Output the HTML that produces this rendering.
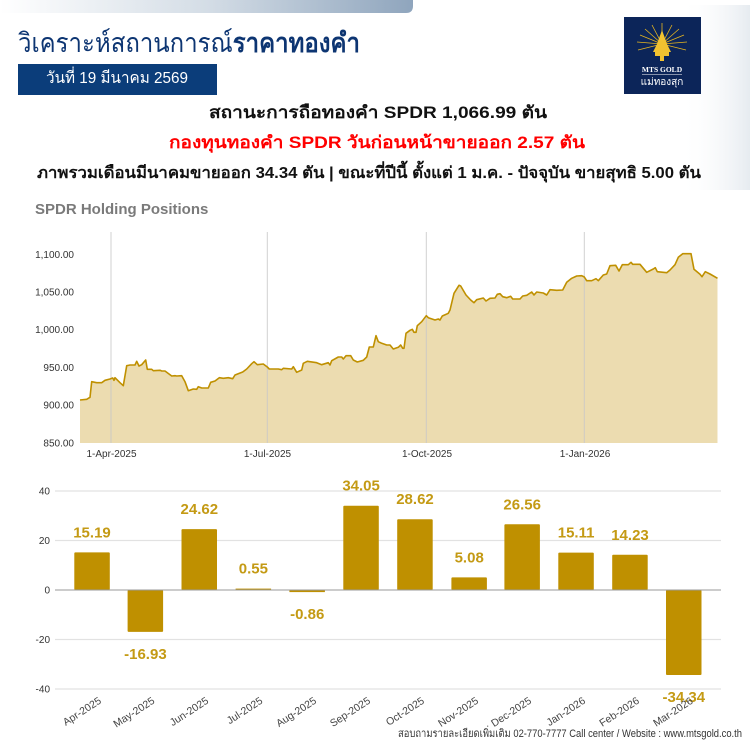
<!DOCTYPE html>
<html><head><meta charset="utf-8">
<style>
html,body{margin:0;padding:0;background:#fff;}
svg{display:block;}
text{font-family:"Liberation Sans","DejaVu Sans","Noto Sans CJK SC",sans-serif;}
</style></head>
<body>
<svg width="750" height="750" viewBox="0 0 750 750" xmlns="http://www.w3.org/2000/svg">
<defs>
<linearGradient id="band" x1="0" y1="0" x2="1" y2="0">
<stop offset="0" stop-color="#ffffff"/>
<stop offset="0.5" stop-color="#d4dde6"/>
<stop offset="1" stop-color="#8fa5bd"/>
</linearGradient>
<linearGradient id="side" x1="0" y1="0" x2="1" y2="0">
<stop offset="0" stop-color="#ffffff" stop-opacity="0"/>
<stop offset="1" stop-color="#e6ebf0"/>
</linearGradient>
</defs>
<rect width="750" height="750" fill="#fff"/>
<!-- top band -->
<path d="M0 0 H413 V6 Q413 13 406 13 H0 Z" fill="url(#band)"/>
<!-- right decor -->
<rect x="680" y="5" width="70" height="185" fill="url(#side)"/>

<!-- title -->
<text x="18" y="52" font-size="27" fill="#0d3572" textLength="342" lengthAdjust="spacingAndGlyphs"><tspan>วิเคราะห์สถานการณ์</tspan><tspan font-weight="bold">ราคาทองคำ</tspan></text>
<rect x="18" y="64" width="199" height="31" fill="#0b3d7a"/>
<text x="46" y="83" font-size="16" fill="#fff" textLength="142" lengthAdjust="spacingAndGlyphs">วันที่ 19 มีนาคม 2569</text>

<!-- logo -->
<rect x="624" y="17" width="77" height="77" fill="#0c2559"/>
<g stroke="#e6b520" stroke-width="0.8">
<line x1="662" y1="44" x2="662" y2="23"/>
<line x1="662" y1="44" x2="652" y2="25"/>
<line x1="662" y1="44" x2="672" y2="25"/>
<line x1="662" y1="44" x2="645" y2="29"/>
<line x1="662" y1="44" x2="679" y2="29"/>
<line x1="662" y1="44" x2="640" y2="35"/>
<line x1="662" y1="44" x2="684" y2="35"/>
<line x1="662" y1="44" x2="637" y2="42"/>
<line x1="662" y1="44" x2="687" y2="42"/>
<line x1="662" y1="44" x2="638" y2="50"/>
<line x1="662" y1="44" x2="686" y2="50"/>
</g>
<path d="M662 30 L667 44 L671 52 L653 52 L657 44 Z" fill="#f2c230"/>
<rect x="655" y="52" width="14" height="4" fill="#f2c230"/>
<rect x="660" y="56" width="4" height="5" fill="#f2c230"/>
<text x="662" y="72" font-size="7.5" fill="#fff" text-anchor="middle" font-weight="bold" style="font-family:'Liberation Serif',serif">MTS GOLD</text>
<line x1="642" y1="74.5" x2="682" y2="74.5" stroke="#fff" stroke-width="0.6"/>
<text x="662" y="85" font-size="10" fill="#fff" text-anchor="middle">แม่ทองสุก</text>

<!-- summary lines -->
<text x="209" y="118" font-size="17" font-weight="bold" fill="#111" textLength="338" lengthAdjust="spacingAndGlyphs">สถานะการถือทองคำ   SPDR 1,066.99 ตัน</text>
<text x="169" y="148" font-size="17" font-weight="bold" fill="#ff0000" textLength="416" lengthAdjust="spacingAndGlyphs">กองทุนทองคำ  SPDR วันก่อนหน้าขายออก   2.57 ตัน</text>
<text x="37" y="178" font-size="16" font-weight="bold" fill="#111" textLength="664" lengthAdjust="spacingAndGlyphs">ภาพรวมเดือนมีนาคมขายออก   34.34 ตัน | ขณะที่ปีนี้  ตั้งแต่  1 ม.ค. - ปัจจุบัน  ขายสุทธิ  5.00 ตัน</text>
<text x="35" y="214" font-size="15" font-weight="bold" fill="#7a7a7a">SPDR Holding Positions</text>

<!-- top chart -->
<g font-size="10" fill="#333" text-anchor="end">
<text x="74" y="258">1,100.00</text>
<text x="74" y="295.5">1,050.00</text>
<text x="74" y="333">1,000.00</text>
<text x="74" y="371">950.00</text>
<text x="74" y="408.5">900.00</text>
<text x="74" y="446.5">850.00</text>
</g>
<path d="M80,443 L80,400 L86.7,399.3 L90,397.3 L91.7,381.7 L96.7,382.7 L101.7,382.7 L105,380.3 L110,379 L112.7,378 L114,380.3 L115,377.7 L120,382.7 L123.3,385.7 L126.7,365.7 L130,365 L135,365 L136.7,361.3 L139,366 L141.7,364.7 L145.7,360 L147.3,369.3 L151.7,369.3 L153.3,370.7 L160,370.3 L161.7,371 L165,371 L171.7,376 L175,375.7 L176.7,376 L181.7,375.7 L185,381.7 L188.3,390.7 L193.3,389 L196.7,389.3 L198.3,386.7 L201.7,388 L208.3,388 L210.7,382.3 L215,381 L219.3,377.7 L223.3,378.3 L228.3,377.7 L232.7,378.7 L235,375 L242.7,372 L246.7,369 L251.7,363.7 L254,361.7 L257.3,364.7 L263.3,364 L267.3,367 L269.3,369 L278.3,369 L281.7,369.7 L283.3,368.3 L291.7,369 L293.3,366.7 L296.7,372.3 L301.7,370 L303.3,363.3 L307.3,361.3 L316.7,362.7 L321.7,364.7 L328.3,362.7 L330,365 L331.7,360.7 L338.3,357 L341.7,357 L343.3,359 L346,355.7 L350.7,355.7 L353.3,360 L357.3,362 L363.3,360.3 L366.7,357 L369.3,347 L373.3,347 L376,335.7 L378.3,341.7 L381.7,343.3 L386.7,345 L390,345 L393.3,349 L398.3,347.3 L400.7,345 L402.7,348.3 L404,348.3 L406,333.3 L410,330.3 L412.3,329.3 L414,332.3 L416,332.3 L417.3,325.7 L421.7,321.7 L426.3,315.7 L428.3,317.7 L435,320 L438.3,319 L440,320 L442.3,316 L448.3,313.3 L450,310 L454,293.3 L459,285.3 L460.7,286 L466,295 L470.7,300 L474,302.7 L476.7,299.7 L483.3,298 L486,301 L490,298.3 L495,298 L497.3,294.3 L500,293.7 L502.7,296.7 L506.7,297.7 L510.7,296.3 L512.7,299 L520,299 L522.7,296 L526.7,295.3 L531.7,292 L534,295 L536.7,292 L543.3,293 L546.7,295 L550,289.7 L556.7,290.3 L562.7,290 L566.7,282.3 L571.7,278.3 L576.7,276 L581.7,275.7 L584.3,277 L586.7,280.7 L591.7,280.7 L596,278.7 L598.3,280.7 L603.3,275 L606.7,274 L610,265.7 L615.7,265.3 L619,271 L622.3,264.7 L628.3,264.7 L631,262.3 L632.7,264.3 L640,264.3 L646.7,272.3 L653.3,269 L655.3,267.7 L657.3,271.7 L666.7,272.7 L670,270 L675,264.7 L678.3,257.3 L682.7,253.7 L691,253.7 L694,269.3 L700,274.3 L702,276.7 L705.3,271.7 L710,274 L717.5,278.3 L717.5,443 Z" fill="#ecdcb0" stroke="none"/>
<g stroke="#c8c8c8" stroke-width="1" opacity="0.85">
<line x1="111" y1="232" x2="111" y2="443"/>
<line x1="267.3" y1="232" x2="267.3" y2="443"/>
<line x1="426.3" y1="232" x2="426.3" y2="443"/>
<line x1="584.3" y1="232" x2="584.3" y2="443"/>
</g>
<polyline fill="none" stroke="#bf9000" stroke-width="1.6" stroke-linejoin="round" points="80,400 86.7,399.3 90,397.3 91.7,381.7 96.7,382.7 101.7,382.7 105,380.3 110,379 112.7,378 114,380.3 115,377.7 120,382.7 123.3,385.7 126.7,365.7 130,365 135,365 136.7,361.3 139,366 141.7,364.7 145.7,360 147.3,369.3 151.7,369.3 153.3,370.7 160,370.3 161.7,371 165,371 171.7,376 175,375.7 176.7,376 181.7,375.7 185,381.7 188.3,390.7 193.3,389 196.7,389.3 198.3,386.7 201.7,388 208.3,388 210.7,382.3 215,381 219.3,377.7 223.3,378.3 228.3,377.7 232.7,378.7 235,375 242.7,372 246.7,369 251.7,363.7 254,361.7 257.3,364.7 263.3,364 267.3,367 269.3,369 278.3,369 281.7,369.7 283.3,368.3 291.7,369 293.3,366.7 296.7,372.3 301.7,370 303.3,363.3 307.3,361.3 316.7,362.7 321.7,364.7 328.3,362.7 330,365 331.7,360.7 338.3,357 341.7,357 343.3,359 346,355.7 350.7,355.7 353.3,360 357.3,362 363.3,360.3 366.7,357 369.3,347 373.3,347 376,335.7 378.3,341.7 381.7,343.3 386.7,345 390,345 393.3,349 398.3,347.3 400.7,345 402.7,348.3 404,348.3 406,333.3 410,330.3 412.3,329.3 414,332.3 416,332.3 417.3,325.7 421.7,321.7 426.3,315.7 428.3,317.7 435,320 438.3,319 440,320 442.3,316 448.3,313.3 450,310 454,293.3 459,285.3 460.7,286 466,295 470.7,300 474,302.7 476.7,299.7 483.3,298 486,301 490,298.3 495,298 497.3,294.3 500,293.7 502.7,296.7 506.7,297.7 510.7,296.3 512.7,299 520,299 522.7,296 526.7,295.3 531.7,292 534,295 536.7,292 543.3,293 546.7,295 550,289.7 556.7,290.3 562.7,290 566.7,282.3 571.7,278.3 576.7,276 581.7,275.7 584.3,277 586.7,280.7 591.7,280.7 596,278.7 598.3,280.7 603.3,275 606.7,274 610,265.7 615.7,265.3 619,271 622.3,264.7 628.3,264.7 631,262.3 632.7,264.3 640,264.3 646.7,272.3 653.3,269 655.3,267.7 657.3,271.7 666.7,272.7 670,270 675,264.7 678.3,257.3 682.7,253.7 691,253.7 694,269.3 700,274.3 702,276.7 705.3,271.7 710,274 717.5,278.3"/>
<g font-size="10" fill="#333" text-anchor="middle">
<text x="111.5" y="457">1-Apr-2025</text>
<text x="267.5" y="457">1-Jul-2025</text>
<text x="427" y="457">1-Oct-2025</text>
<text x="585" y="457">1-Jan-2026</text>
</g>

<!-- bar chart -->
<g stroke="#e2e2e2" stroke-width="1.3">
<line x1="55" y1="491" x2="721" y2="491"/>
<line x1="55" y1="540.5" x2="721" y2="540.5"/>
<line x1="55" y1="639.5" x2="721" y2="639.5"/>
<line x1="55" y1="689" x2="721" y2="689"/>
</g>
<g font-size="10" fill="#333" text-anchor="end">
<text x="50" y="494.5">40</text>
<text x="50" y="544">20</text>
<text x="50" y="593.5">0</text>
<text x="50" y="643">-20</text>
<text x="50" y="692.5">-40</text>
</g>
<g fill="#bf9000">
<rect x="74.3" y="552.4" width="35.5" height="37.6" rx="1"/>
<rect x="127.6" y="590" width="35.5" height="41.9" rx="1"/>
<rect x="181.5" y="529.1" width="35.5" height="60.9" rx="1"/>
<rect x="235.6" y="588.6" width="35.5" height="1.4"/>
<rect x="289.4" y="590" width="35.5" height="2.1"/>
<rect x="343.3" y="505.7" width="35.5" height="84.3" rx="1"/>
<rect x="397.2" y="519.2" width="35.5" height="70.8" rx="1"/>
<rect x="451.4" y="577.4" width="35.5" height="12.6" rx="1"/>
<rect x="504.4" y="524.3" width="35.5" height="65.7" rx="1"/>
<rect x="558.3" y="552.6" width="35.5" height="37.4" rx="1"/>
<rect x="612.2" y="554.8" width="35.5" height="35.2" rx="1"/>
<rect x="666" y="590" width="35.5" height="85" rx="1"/>
</g>
<line x1="55" y1="590" x2="721" y2="590" stroke="#9a9a9a" stroke-width="1"/>
<g font-size="15" font-weight="bold" fill="#c49a14" text-anchor="middle">
<text x="92" y="537.4">15.19</text>
<text x="145.4" y="658.9">-16.93</text>
<text x="199.3" y="514.1">24.62</text>
<text x="253.4" y="573.6">0.55</text>
<text x="307.2" y="619.1">-0.86</text>
<text x="361.1" y="490.7">34.05</text>
<text x="415" y="504.2">28.62</text>
<text x="469.2" y="562.4">5.08</text>
<text x="522.2" y="509.3">26.56</text>
<text x="576.1" y="537.6">15.11</text>
<text x="630" y="539.8">14.23</text>
<text x="683.8" y="702">-34.34</text>
</g>
<g font-size="10.5" fill="#444" text-anchor="end">
<text transform="translate(102,702.5) rotate(-33)">Apr-2025</text>
<text transform="translate(155.4,702.5) rotate(-33)">May-2025</text>
<text transform="translate(209.3,702.5) rotate(-33)">Jun-2025</text>
<text transform="translate(263.4,702.5) rotate(-33)">Jul-2025</text>
<text transform="translate(317.2,702.5) rotate(-33)">Aug-2025</text>
<text transform="translate(371.1,702.5) rotate(-33)">Sep-2025</text>
<text transform="translate(425,702.5) rotate(-33)">Oct-2025</text>
<text transform="translate(479.2,702.5) rotate(-33)">Nov-2025</text>
<text transform="translate(532.2,702.5) rotate(-33)">Dec-2025</text>
<text transform="translate(586.1,702.5) rotate(-33)">Jan-2026</text>
<text transform="translate(640,702.5) rotate(-33)">Feb-2026</text>
<text transform="translate(693.8,702.5) rotate(-33)">Mar-2026</text>
</g>

<!-- footer -->
<text x="398" y="737" font-size="11" fill="#333" textLength="344" lengthAdjust="spacingAndGlyphs">สอบถามรายละเอียดเพิ่มเติม 02-770-7777 Call center / Website : www.mtsgold.co.th</text>
</svg>
</body></html>
